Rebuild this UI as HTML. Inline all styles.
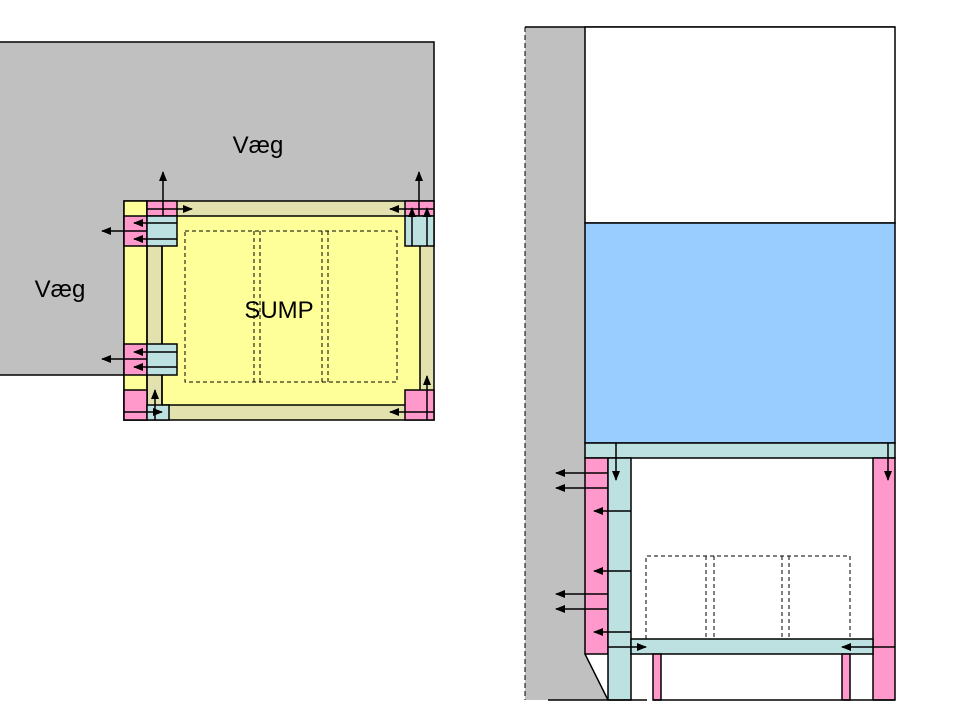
<!DOCTYPE html>
<html><head><meta charset="utf-8"><style>html,body{margin:0;padding:0;background:#fff}svg{display:block}</style></head>
<body>
<svg width="960" height="720" viewBox="0 0 960 720" xmlns="http://www.w3.org/2000/svg" font-family="Liberation Sans, sans-serif">
<defs>
<marker id="a" markerWidth="10" markerHeight="8" refX="9" refY="4" orient="auto" markerUnits="userSpaceOnUse">
<path d="M0,0 L10,4 L0,8 z" fill="#000"/></marker>
</defs>
<g stroke="#000" stroke-width="1.5">
<path d="M0,42 H434 V201 H124 V375 H0 Z" fill="#c0c0c0" stroke="none"/>
<path d="M0,42 H434 V201" fill="none"/>
<path d="M0,375 H124" fill="none"/>
<rect x="124" y="201" width="310" height="219" fill="#e3e1ad"/>
<rect x="124" y="201" width="23" height="219" fill="#ffff99"/>
<rect x="162" y="216" width="258" height="189" fill="#ffff99"/>
<line x1="147" y1="201" x2="147" y2="420"/>
<line x1="162" y1="216" x2="162" y2="405"/>
<rect x="147" y="201" width="30" height="15" fill="#ff99cc"/>
<rect x="124" y="216" width="23" height="30" fill="#ff99cc"/>
<rect x="147" y="216" width="30" height="30" fill="#bde0e0"/>
<rect x="124" y="344" width="23" height="31" fill="#ff99cc"/>
<rect x="147" y="344" width="30" height="31" fill="#bde0e0"/>
<rect x="124" y="390" width="23" height="30" fill="#ff99cc"/>
<rect x="147" y="405" width="22" height="15" fill="#bde0e0"/>
<rect x="405" y="201" width="29" height="15" fill="#ff99cc"/>
<rect x="405" y="216" width="29" height="30" fill="#bde0e0"/>
<rect x="405" y="390" width="29" height="30" fill="#ff99cc"/>
<g fill="none" stroke-dasharray="4,3" stroke-width="1">
<rect x="185" y="231" width="212" height="151"/>
<line x1="254" y1="231" x2="254" y2="382"/><line x1="260" y1="231" x2="260" y2="382"/>
<line x1="322" y1="231" x2="322" y2="382"/><line x1="328" y1="231" x2="328" y2="382"/>
</g>
<g fill="none" marker-end="url(#a)">
<line x1="163" y1="216" x2="163" y2="172"/>
<line x1="147" y1="209" x2="192" y2="209"/>
<line x1="147" y1="231" x2="102" y2="231"/>
<line x1="177" y1="223" x2="134" y2="223"/>
<line x1="177" y1="239" x2="134" y2="239"/>
<line x1="147" y1="359" x2="102" y2="359"/>
<line x1="177" y1="352" x2="134" y2="352"/>
<line x1="177" y1="367" x2="134" y2="367"/>
<line x1="155" y1="420" x2="155" y2="390"/>
<line x1="124" y1="412" x2="162" y2="412"/>
<line x1="419" y1="216" x2="419" y2="172"/>
<line x1="434" y1="209" x2="390" y2="209"/>
<line x1="412" y1="246" x2="412" y2="208"/>
<line x1="427" y1="246" x2="427" y2="208"/>
<line x1="427" y1="420" x2="427" y2="376"/>
<line x1="434" y1="412" x2="390" y2="412"/>
</g>
</g>
<g font-size="24" fill="#000">
<text x="258" y="153" text-anchor="middle">Væg</text>
<text x="60" y="297" text-anchor="middle">Væg</text>
<text x="279" y="318" text-anchor="middle">SUMP</text>
<text x="552" y="357" text-anchor="middle">Væg</text>
</g>
<g stroke="#000" stroke-width="1.5">
<path d="M525,27 H585 V654 L608,700 H525 Z" fill="#c0c0c0" stroke="none"/>
<line x1="525" y1="27" x2="525" y2="700" stroke-dasharray="5,3" stroke-width="1"/>
<line x1="525" y1="27" x2="895" y2="27"/>
<rect x="585" y="27" width="310" height="196" fill="#fff"/>
<rect x="585" y="223" width="310" height="220" fill="#99ccff"/>
<rect x="585" y="443" width="310" height="15" fill="#bde0e0"/>
<rect x="585" y="458" width="23" height="196" fill="#ff99cc"/>
<rect x="608" y="458" width="23" height="242" fill="#bde0e0"/>
<rect x="873" y="458" width="22" height="242" fill="#ff99cc"/>
<rect x="631" y="639" width="242" height="15" fill="#bde0e0"/>
<rect x="653" y="654" width="8" height="46" fill="#ff99cc"/>
<rect x="842" y="654" width="8" height="46" fill="#ff99cc"/>
<line x1="585" y1="654" x2="608" y2="700"/>
<line x1="548" y1="700" x2="647" y2="700"/>
<line x1="653" y1="700" x2="895" y2="700"/>
<g fill="none" stroke-dasharray="4,3" stroke-width="1">
<path d="M646,639 V556 H850 V639"/>
<line x1="706" y1="556" x2="706" y2="639"/><line x1="714" y1="556" x2="714" y2="639"/>
<line x1="782" y1="556" x2="782" y2="639"/><line x1="789" y1="556" x2="789" y2="639"/>
</g>
<g fill="none" marker-end="url(#a)">
<line x1="616" y1="443" x2="616" y2="480"/>
<line x1="888" y1="443" x2="888" y2="480"/>
<line x1="608" y1="473" x2="556" y2="473"/>
<line x1="608" y1="488" x2="556" y2="488"/>
<line x1="631" y1="511" x2="594" y2="511"/>
<line x1="631" y1="571" x2="594" y2="571"/>
<line x1="608" y1="594" x2="556" y2="594"/>
<line x1="608" y1="609" x2="556" y2="609"/>
<line x1="631" y1="632" x2="594" y2="632"/>
<line x1="608" y1="647" x2="646" y2="647"/>
<line x1="895" y1="647" x2="842" y2="647"/>
</g>
</g>
</svg>
</body></html>
